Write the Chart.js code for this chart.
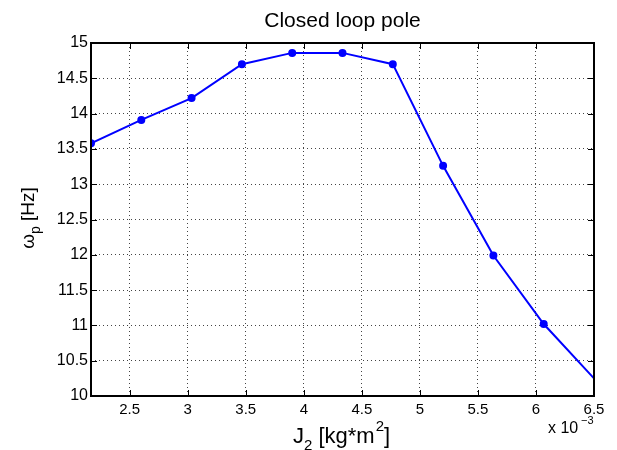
<!DOCTYPE html>
<html>
<head>
<meta charset="utf-8">
<script src="https://cdn.jsdelivr.net/npm/chart.js@4/dist/chart.umd.min.js"></script>
<style>
  body { margin: 0; background: #fff; }
  #wrap { width: 617px; height: 450px; }
</style>
</head>
<body>
<div id="wrap"><canvas id="myChart" width="617" height="450"></canvas></div>
<script>
// J2 in units of 1e-3 kg*m^2, pole frequency in Hz
var jValues = [2.1667, 2.6, 3.0333, 3.4667, 3.9, 4.3333, 4.7667, 5.2, 5.6333, 6.0667, 6.5];
var poleHz = [13.58, 13.91, 14.22, 14.70, 14.86, 14.86, 14.70, 13.26, 11.99, 11.02, 10.25];
var xTicks = [2.5, 3, 3.5, 4, 4.5, 5, 5.5, 6, 6.5];
var yTicks = [10, 10.5, 11, 11.5, 12, 12.5, 13, 13.5, 14, 14.5, 15];

var FONT = '"Liberation Sans", Arial, sans-serif';

var matlabFrame = {
  id: 'matlabFrame',
  afterDraw: function (chart) {
    var c = chart.ctx, a = chart.chartArea;
    var xs = chart.scales.x, ys = chart.scales.y;
    c.save();
    c.strokeStyle = '#000';
    c.lineWidth = 1;
    // inward ticks on all four sides
    c.beginPath();
    xTicks.forEach(function (v) {
      var px = Math.round(xs.getPixelForValue(v)) + 0.5;
      c.moveTo(px, a.bottom); c.lineTo(px, a.bottom - 6);
      c.moveTo(px, a.top); c.lineTo(px, a.top + 6);
    });
    yTicks.forEach(function (v) {
      var py = Math.round(ys.getPixelForValue(v)) + 0.5;
      c.moveTo(a.left, py); c.lineTo(a.left + 6, py);
      c.moveTo(a.right, py); c.lineTo(a.right - 6, py);
    });
    c.stroke();
    // box
    c.lineWidth = 2;
    c.strokeRect(a.left, a.top, a.right - a.left, a.bottom - a.top);

    c.fillStyle = '#000';
    // title
    c.font = '21px ' + FONT;
    c.textAlign = 'center';
    c.textBaseline = 'alphabetic';
    c.fillText('Closed loop pole', (a.left + a.right) / 2, 27);

    // x label: J2 [kg*m^2]
    c.textAlign = 'left';
    c.font = '22px ' + FONT;
    var x0 = 293, yb = 443;
    c.fillText('J', x0, yb);
    var w = c.measureText('J').width;
    c.font = '15px ' + FONT;
    c.fillText('2', x0 + w, yb + 7);
    w += c.measureText('2').width;
    c.font = '22px ' + FONT;
    c.fillText(' [kg*m', x0 + w, yb);
    w += c.measureText(' [kg*m').width + 1;
    c.font = '15px ' + FONT;
    c.fillText('2', x0 + w, yb - 12);
    w += c.measureText('2').width;
    c.font = '22px ' + FONT;
    c.fillText(']', x0 + w, yb);

    // exponent label
    c.font = '16px ' + FONT;
    c.fillText('x 10', 548, 433);
    c.font = '11px ' + FONT;
    c.fillText('\u22123', 581, 424);

    // y label: omega_p [Hz], rotated
    c.translate(34, 218);
    c.rotate(-Math.PI / 2);
    c.font = '19px ' + FONT;
    var wo = c.measureText('\u03c9').width;
    c.font = '14px ' + FONT;
    var wp = c.measureText('p').width;
    c.font = '19px ' + FONT;
    var wh = c.measureText(' [Hz]').width;
    var sx = -(wo + wp + wh) / 2;
    c.fillText('\u03c9', sx, 0);
    c.font = '14px ' + FONT;
    c.fillText('p', sx + wo, 6);
    c.font = '19px ' + FONT;
    c.fillText(' [Hz]', sx + wo + wp, 0);
    c.restore();
  }
};

var ctx = document.getElementById('myChart').getContext('2d');
var myChart = new Chart(ctx, {
  type: 'scatter',
  data: {
    datasets: [{
      data: jValues.map(function (j, i) { return { x: j, y: poleHz[i] }; }),
      showLine: true,
      borderColor: '#0000ff',
      backgroundColor: '#0000ff',
      borderWidth: 2,
      pointRadius: jValues.map(function (j, i) { return i === jValues.length - 1 ? 0 : 3; }),
      pointHoverRadius: 3,
      clip: 0
    }]
  },
  options: {
    responsive: false,
    animation: false,
    layout: { padding: { left: 0, right: 23, top: 43, bottom: 0 } },
    plugins: { legend: { display: false }, tooltip: { enabled: false } },
    scales: {
      x: {
        type: 'linear',
        min: 2.1667,
        max: 6.5,
        afterBuildTicks: function (s) { s.ticks = xTicks.map(function (v) { return { value: v }; }); },
        afterFit: function (s) { s.height = 54; },
        grid: { color: '#444', lineWidth: 1, drawTicks: false },
        border: { display: false, dash: [1, 3] },
        ticks: {
          color: '#000', font: { family: FONT, size: 15 }, padding: 5, maxRotation: 0,
          callback: function (v) { return String(v); }
        }
      },
      y: {
        min: 10,
        max: 15,
        afterBuildTicks: function (s) { s.ticks = yTicks.map(function (v) { return { value: v }; }); },
        afterFit: function (s) { s.width = 91; },
        grid: { color: '#444', lineWidth: 1, drawTicks: false },
        border: { display: false, dash: [1, 3] },
        ticks: {
          color: '#000', font: { family: FONT, size: 16 }, padding: 3,
          callback: function (v) { return String(v); }
        }
      }
    }
  },
  plugins: [matlabFrame]
});
</script>
</body>
</html>
